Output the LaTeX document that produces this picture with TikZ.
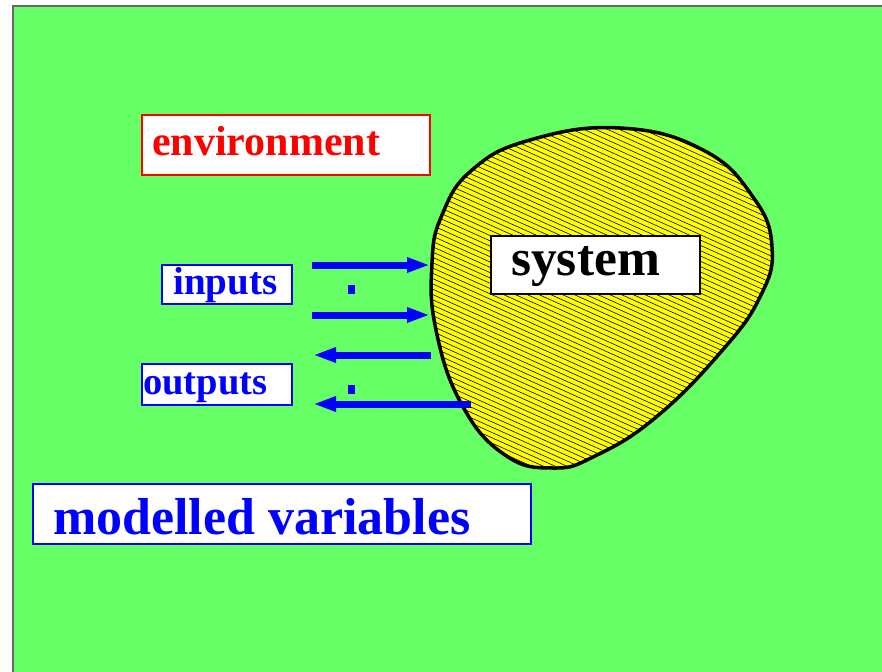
\documentclass[tikz,border=0pt]{standalone}
\usepackage{fontspec}
\setmainfont{Liberation Serif}
\usetikzlibrary{arrows.meta}
\definecolor{bggreen}{HTML}{66FF66}
\definecolor{pureblue}{HTML}{0000FF}
\definecolor{purered}{HTML}{FF0000}
\definecolor{blobyellow}{HTML}{FFFF00}
\definecolor{framegray}{HTML}{666666}
\tikzset{
  labelbox/.style={draw=#1, fill=white, line width=2pt, inner sep=0pt, rectangle},
  labeltext/.style={anchor=base west, inner sep=0pt, text=#1, font=\bfseries},
  flowarrow/.style={draw=pureblue, line width=7pt, -{Triangle[length=23pt,width=14pt]}},
  dotmark/.style={fill=pureblue, inner sep=0pt, minimum width=7pt, minimum height=9pt, rectangle}
}
\begin{document}
\begin{tikzpicture}[x=1pt,y=-1pt]
\useasboundingbox (0,0) rectangle (882,671);
% background
\fill[white] (0,0) rectangle (882,671);
\fill[bggreen] (13,6) rectangle (884,673);
\draw[framegray, line width=1.5pt] (13,673) -- (13,6) -- (884,6);

% system blob
\def\blobpath{plot[smooth cycle, tension=0.75] coordinates {
 (432,263) (442,215) (472,170) (530,140) (620,128) (703,150) (753,197)
 (772,247) (760,297) (720,353) (655,418) (595,456) (553,468) (505,455)
 (462,405) (436,330)}}
\fill[blobyellow] \blobpath;
\begin{scope}
  \clip \blobpath;
  \foreach \i in {0,...,110}{
    \pgfmathsetmacro{\c}{-70+5.3*\i}
    \draw[black, line width=0.6pt] (400,\c) -- (800,\c+180);
  }
\end{scope}
\draw[black, line width=3.5pt] \blobpath;

% label boxes
\node[labelbox=purered, minimum width=288pt, minimum height=60pt] (envbox) at (286,145) {};
\node[labeltext=purered] (envtext) at (152,156) {\fontsize{42}{48}\selectfont environment};

\node[labelbox=black, minimum width=209pt, minimum height=58pt] (sysbox) at (595.5,265) {};
\node[labeltext=black] (systext) at (511,275) {\fontsize{51.5}{56}\selectfont system};

\node[labelbox=pureblue, minimum width=130pt, minimum height=39pt] (inbox) at (227,284.5) {};
\node[labeltext=pureblue] (intext) at (173,294) {\fontsize{39}{44}\selectfont inputs};

\node[labelbox=pureblue, minimum width=150pt, minimum height=41pt] (outbox) at (217,384.5) {};
\node[labeltext=pureblue] (outtext) at (143,394) {\fontsize{38.5}{44}\selectfont outputs};

\node[labelbox=pureblue, minimum width=498pt, minimum height=60pt] (modbox) at (281.5,514) {};
\node[labeltext=pureblue] (modtext) at (53,534) {\fontsize{52}{58}\selectfont modelled variables};

% arrows
\coordinate (in1s) at (312,265);
\coordinate (in1e) at (430,265);
\coordinate (in2s) at (312,315);
\coordinate (in2e) at (430,315);
\coordinate (out1s) at (431,355);
\coordinate (out1e) at (313,355);
\coordinate (out2s) at (471,404);
\coordinate (out2e) at (313,404);
\draw[flowarrow] (in1s) -- (in1e);
\draw[flowarrow] (in2s) -- (in2e);
\draw[flowarrow] (out1s) -- (out1e);
\draw[flowarrow] (out2s) -- (out2e);

% dots
\node[dotmark] (indot) at (351,289.5) {};
\node[dotmark] (outdot) at (351,389) {};
\end{tikzpicture}
\end{document}
